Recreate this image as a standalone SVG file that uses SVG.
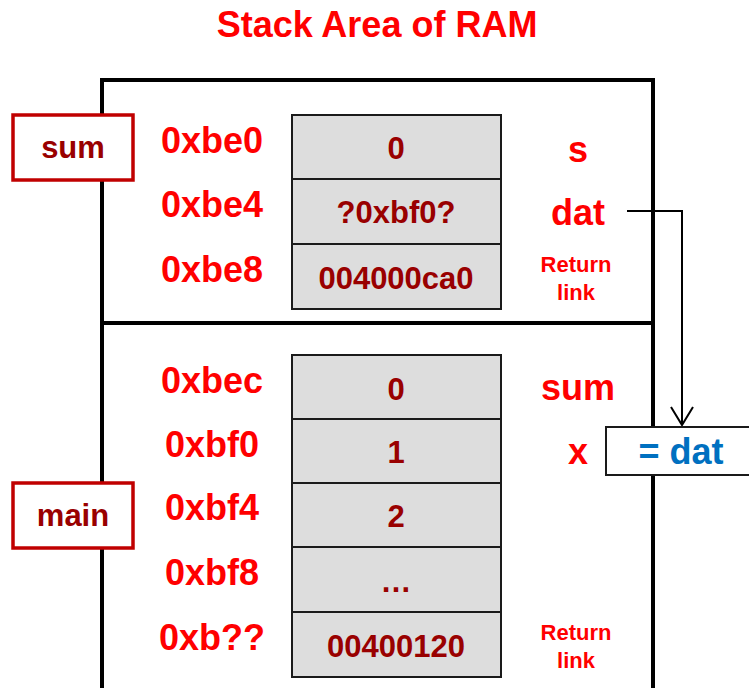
<svg xmlns="http://www.w3.org/2000/svg" width="749" height="688" viewBox="0 0 749 688">
  <defs>
    <style>
      .title { font: bold 36px "Liberation Sans", Arial, sans-serif; fill: #FF0000; }
      .addr { font: bold 36px "Liberation Sans", Arial, sans-serif; fill: #FF0000; text-anchor: middle; }
      .var { font: bold 36px "Liberation Sans", Arial, sans-serif; fill: #FF0000; text-anchor: middle; }
      .ret { font: bold 22px "Liberation Sans", Arial, sans-serif; fill: #FF0000; text-anchor: middle; }
      .val { font: bold 31px "Liberation Sans", Arial, sans-serif; fill: #990000; text-anchor: middle; }
      .fn { font: bold 31px "Liberation Sans", Arial, sans-serif; fill: #990000; text-anchor: middle; }
      .cell { fill: #DDDDDD; stroke: #1A1A1A; stroke-width: 2; }
      .fnbox { fill: #FFFFFF; stroke: #C00000; stroke-width: 3.5; }
      .frame { fill: none; stroke: #000000; stroke-width: 4; }
      .link { fill: none; stroke: #000000; stroke-width: 2; }
    </style>
  </defs>

  <rect width="749" height="688" fill="#FFFFFF"/>

  <text class="title" x="377" y="37" text-anchor="middle">Stack Area of RAM</text>

  <!-- stack frame outline and divider between frames -->
  <g id="stack-frame">
    <path class="frame" d="M102,690 V80 H653 V690"/>
    <line class="frame" x1="102" y1="323" x2="653" y2="323"/>
  </g>

  <!-- frame of function sum -->
  <g id="frame-sum">
    <rect class="fnbox" x="13" y="115" width="120" height="65"/>
    <text class="fn" x="73" y="158">sum</text>

    <text class="addr" x="212" y="153">0xbe0</text>
    <text class="addr" x="212" y="217">0xbe4</text>
    <text class="addr" x="212" y="282">0xbe8</text>

    <rect class="cell" x="292" y="115" width="209" height="64"/>
    <rect class="cell" x="292" y="179" width="209" height="65"/>
    <rect class="cell" x="292" y="244" width="209" height="65"/>
    <text class="val" x="396" y="159">0</text>
    <text class="val" x="396" y="223">?0xbf0?</text>
    <text class="val" x="396" y="289">004000ca0</text>

    <text class="var" x="578" y="162">s</text>
    <text class="var" x="578" y="225">dat</text>
    <text class="ret" x="576" y="272">Return</text>
    <text class="ret" x="576" y="300">link</text>
  </g>

  <!-- frame of function main -->
  <g id="frame-main">
    <rect class="fnbox" x="13" y="483" width="120" height="65"/>
    <text class="fn" x="73" y="526">main</text>

    <text class="addr" x="212" y="393">0xbec</text>
    <text class="addr" x="212" y="457">0xbf0</text>
    <text class="addr" x="212" y="520">0xbf4</text>
    <text class="addr" x="212" y="585">0xbf8</text>
    <text class="addr" x="212" y="650">0xb??</text>

    <rect class="cell" x="292" y="355" width="209" height="64"/>
    <rect class="cell" x="292" y="419" width="209" height="64"/>
    <rect class="cell" x="292" y="483" width="209" height="64"/>
    <rect class="cell" x="292" y="547" width="209" height="65"/>
    <rect class="cell" x="292" y="612" width="209" height="65"/>
    <text class="val" x="396" y="400">0</text>
    <text class="val" x="396" y="463">1</text>
    <text class="val" x="396" y="527">2</text>
    <text class="val" x="396" y="592">…</text>
    <text class="val" x="396" y="657">00400120</text>

    <text class="var" x="578" y="400">sum</text>
    <text class="var" x="578" y="464">x</text>
    <text class="ret" x="576" y="640">Return</text>
    <text class="ret" x="576" y="668">link</text>
  </g>

  <!-- pointer from dat to x -->
  <g id="connectors">
    <path class="link" d="M627,211 H682 V425"/>
    <path class="link" d="M671,407 L682,425 L693,407"/>
  </g>

  <g id="note-dat">
    <rect x="606" y="427" width="150" height="48" fill="#FFFFFF" stroke="#1A1A1A" stroke-width="2"/>
    <text x="681" y="464" text-anchor="middle" style="font: bold 36px 'Liberation Sans', Arial, sans-serif; fill: #0070C0;">= dat</text>
  </g>
</svg>
